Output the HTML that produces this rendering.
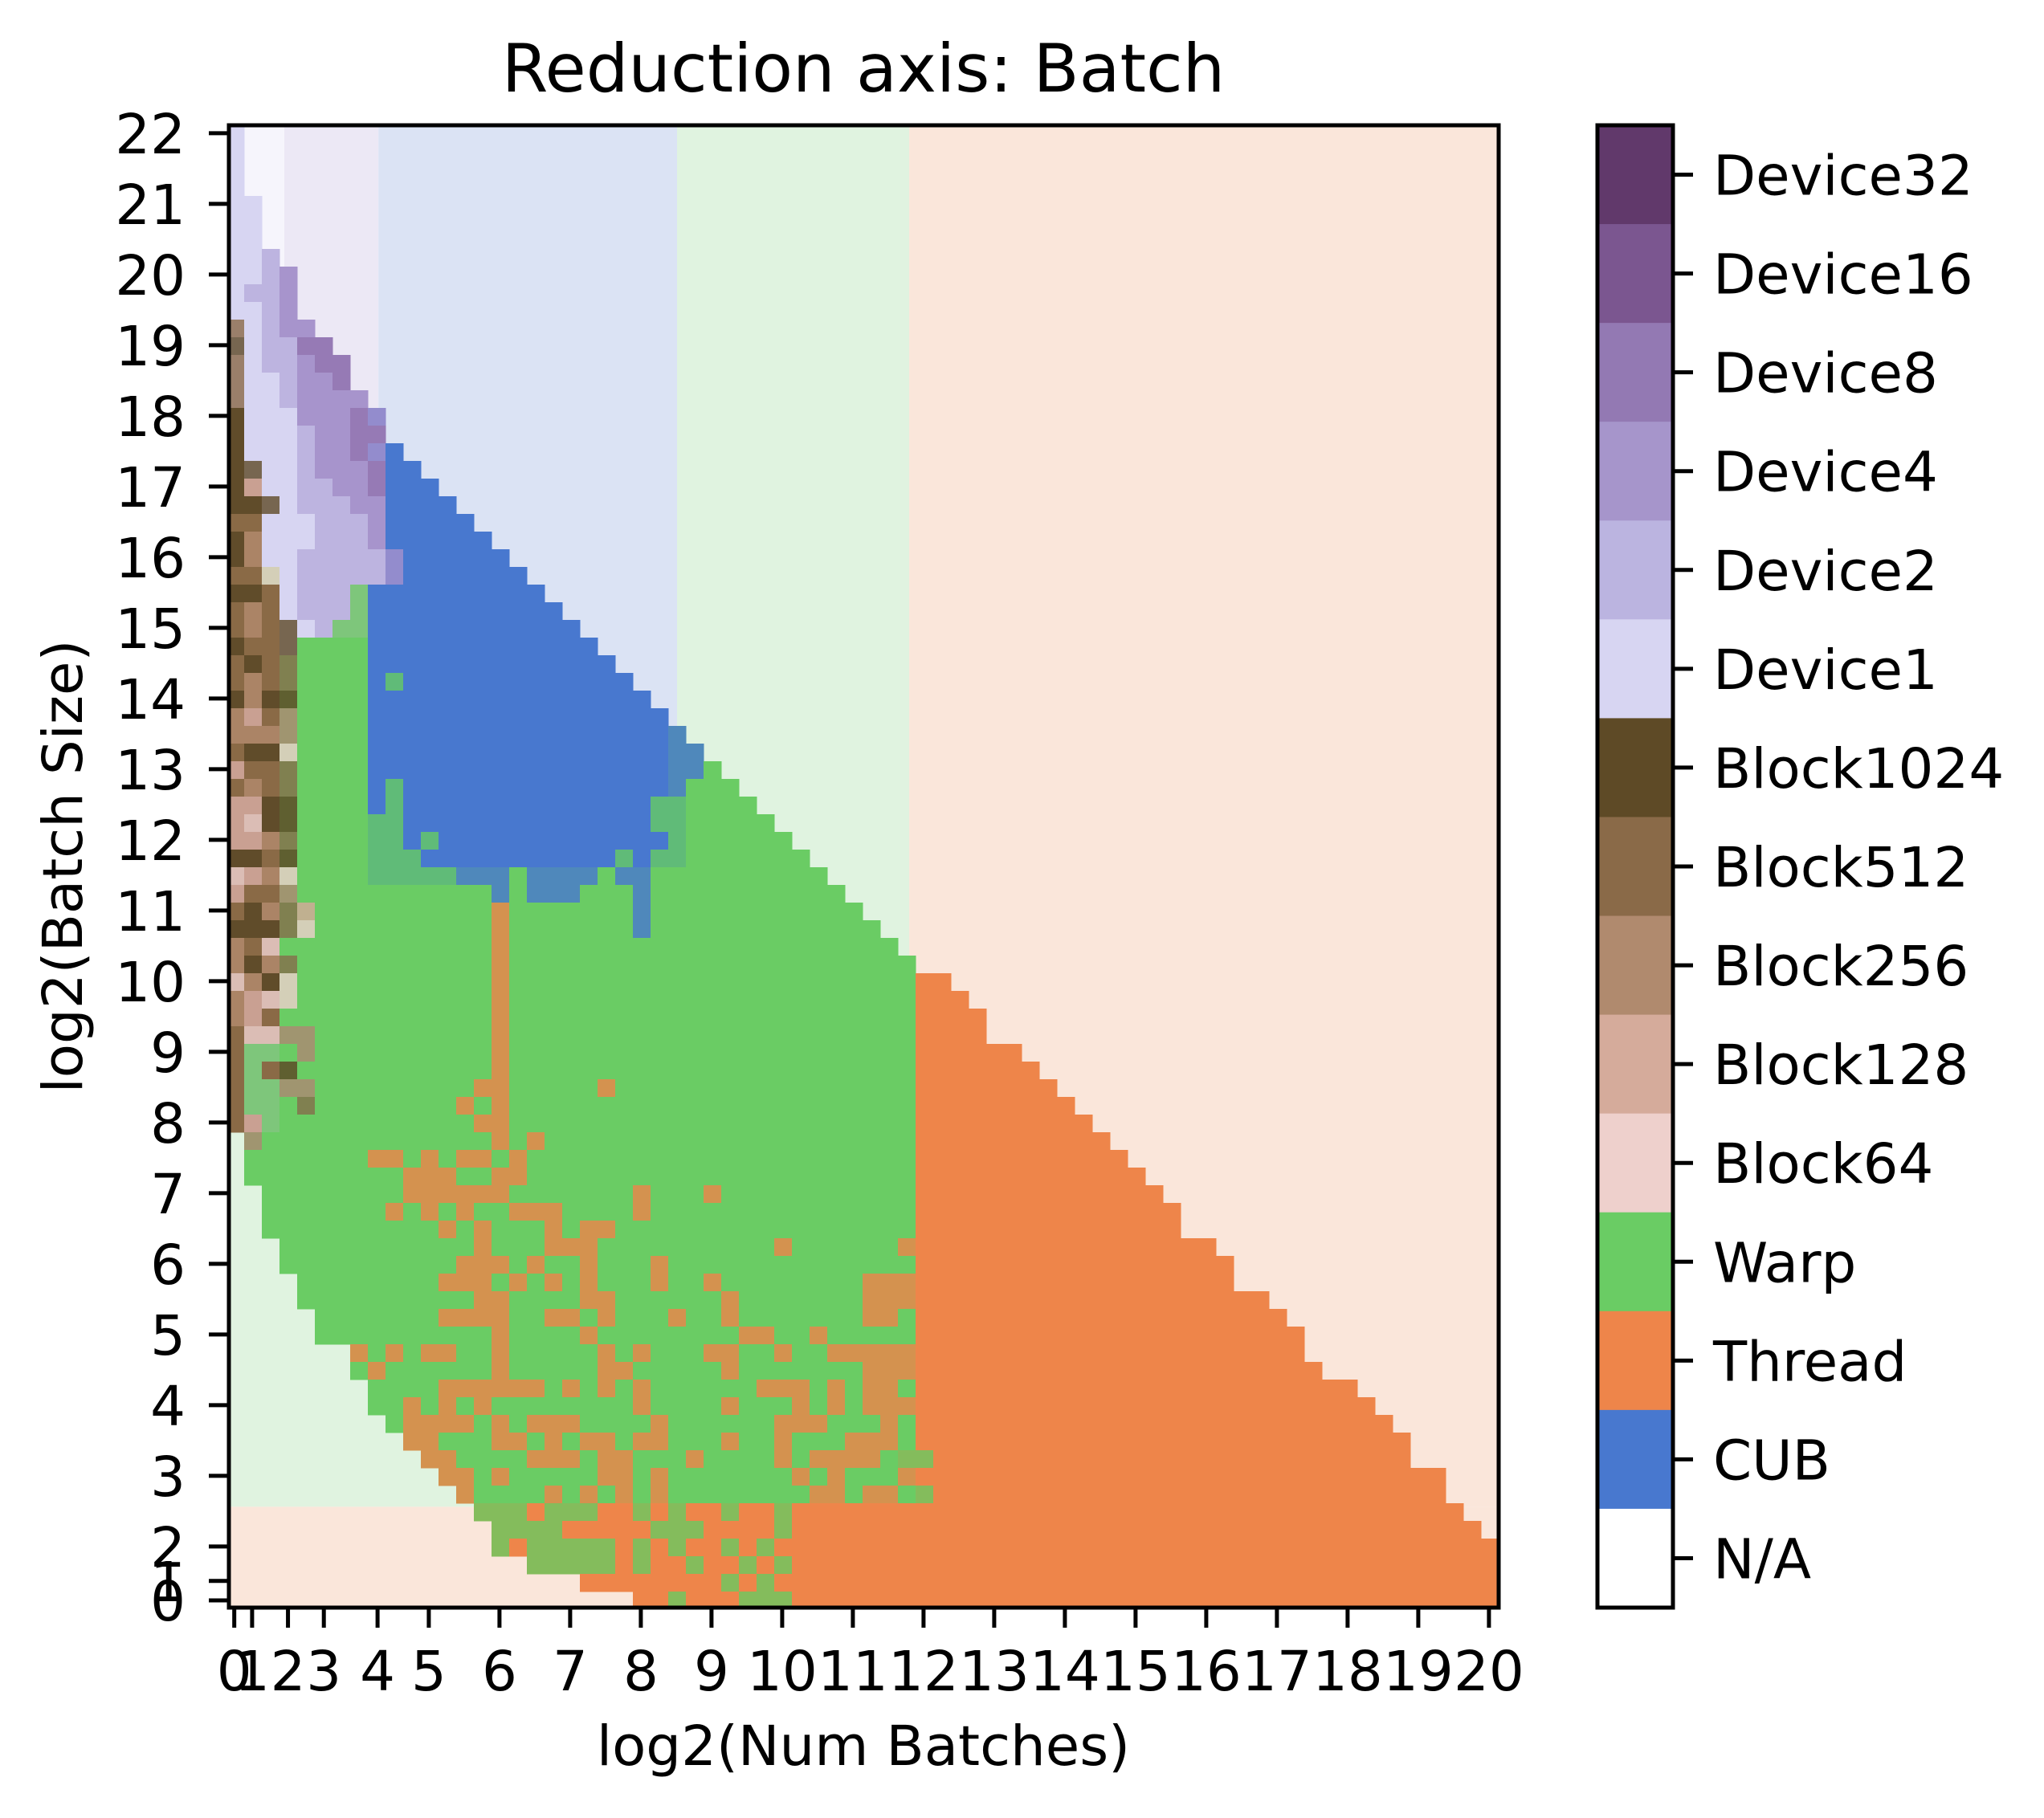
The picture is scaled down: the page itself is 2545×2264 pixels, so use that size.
<!DOCTYPE html>
<html><head><meta charset="utf-8"><title>Reduction axis: Batch</title>
<style>html,body{margin:0;padding:0;background:#fff;}svg{display:block;font-family:"DejaVu Sans","Liberation Sans",sans-serif;}</style>
</head><body>
<svg id="chart" xmlns="http://www.w3.org/2000/svg" width="2545" height="2264" viewBox="0 0 2545 2264">
<rect x="0" y="0" width="2545" height="2264" fill="#fff"/>
<defs><clipPath id="plotclip"><rect x="285" y="156" width="1581" height="1846"/></clipPath></defs>
<text x="1075" y="114" font-size="83" text-anchor="middle">Reduction axis: Batch</text>
<g id="bg" clip-path="url(#plotclip)"></g>
<g id="cells" clip-path="url(#plotclip)" shape-rendering="crispEdges"></g>
<rect x="285" y="156" width="1581" height="1846" fill="none" stroke="#000" stroke-width="5"/>
<g id="xticks"></g>
<g id="yticks"></g>
<text x="1075" y="2198" font-size="69" text-anchor="middle">log2(Num Batches)</text>
<text transform="translate(102,1079) rotate(-90)" font-size="69" text-anchor="middle">log2(Batch Size)</text>
<g id="cbar"></g>
</svg>
<script>
const categories = ["Device32","Device16","Device8","Device4","Device2","Device1","Block1024","Block512","Block256","Block128","Block64","Warp","Thread","CUB","N/A"];
const categoryColors = ["#61396b","#7b5690","#9379b3","#a695cb","#bbb4e0","#d7d5f2","#5e4a26","#8a6a48","#b08a6e","#d5ab9b","#eed0cc","#6acc64","#ee854a","#4878cf","#ffffff"];
const cellColors = {"1":"#d7d5f2","2":"#bdb4e0","4":"#a794cc","8":"#967ab5","k":"#604c2a","5":"#8a6a46","6":"#ab8466","L":"#c9a092","s":"#dbbdb5","b":"#9a7f6a","g":"#776650","o":"#808050","O":"#5f5f30","q":"#a09570","Q":"#d4cfb8","r":"#c0b090","W":"#6acc64","V":"#7ec67b","G":"#60bb78","C":"#4878cf","M":"#4f88bb","P":"#938ccd","t":"#d4924f","T":"#ee854a","m":"#84bc5c"};
const bgColEdges = [0, 1.0, 3.27, 8.6, 25.5, 38.64, 72];
const bgTopColors = ["#d7d5f2","#f6f5fc","#ece8f5","#dbe3f4","#e0f3e0","#fae6da"];
const bgRowEdges = [0, 57, 78.2, 84];
const bgLowerSplitCol = 38.64;
const gridRows = [
"1:1","1:1","1:1","1:1","1:2","1:2","1:2","1:2 2:1","1:2 2:1 4:1","1:1 2:2 4:1",
"1:2 2:1 4:1","b:1 1:1 2:1 4:2","g:1 1:1 2:2 8:2","b:1 1:1 2:2 4:1 8:2","b:1 1:2 2:1 4:2 8:1","b:1 1:2 2:1 4:4","k:1 1:3 4:3 8:1 P:1","k:1 1:3 2:1 4:2 8:2","k:1 1:3 2:1 4:2 8:1 P:1 C:1","k:1 g:1 1:2 2:1 4:3 8:1 C:2",
"k:1 L:1 1:2 2:2 4:2 8:1 C:3","k:2 g:1 1:1 2:3 4:2 C:4","5:2 1:3 2:3 4:1 C:5","k:1 6:1 1:3 2:3 4:1 C:6","k:1 6:1 1:2 2:5 P:1 C:6","5:2 Q:1 1:1 2:5 P:1 C:7","k:2 5:1 1:1 2:3 V:1 C:10","5:1 6:1 5:1 1:1 2:3 V:1 C:11","5:1 6:1 5:1 g:1 1:1 2:1 V:2 C:12","k:1 5:2 g:1 W:4 C:13",
"5:1 k:1 5:1 o:1 W:4 C:14","5:1 6:1 5:1 o:1 W:4 C:1 G:1 C:13","k:1 6:1 k:1 O:1 W:4 C:16","6:1 L:1 5:1 q:1 W:4 C:17","6:3 q:1 W:4 C:17 M:1","5:1 k:2 Q:1 W:4 C:17 M:2","L:1 5:2 o:1 W:4 C:17 M:2 W:1","5:1 6:1 5:1 o:1 W:4 C:1 G:1 C:15 M:1 W:3","L:2 k:1 O:1 W:4 C:1 G:1 C:14 G:2 W:4","L:1 s:1 k:1 O:1 W:4 G:2 C:14 G:2 W:5",
"L:2 6:1 o:1 W:4 G:2 C:1 G:1 C:13 G:1 W:6","k:2 5:1 O:1 W:4 G:3 C:11 G:1 C:1 G:2 W:7","s:1 L:1 6:1 Q:1 W:4 G:5 M:3 W:1 M:4 W:1 M:2 W:10","L:1 5:2 q:1 W:11 M:1 W:1 M:3 W:3 M:1 W:11","5:1 k:1 6:1 o:1 r:1 W:10 t:1 W:7 M:1 W:12","k:3 o:1 Q:1 W:10 t:1 W:7 M:1 W:13","6:1 5:1 s:1 W:12 t:1 W:22","6:1 k:1 6:1 o:1 W:11 t:1 W:23","s:1 6:1 k:1 Q:1 W:11 t:1 W:23 T:2","6:1 L:1 s:1 Q:1 W:11 t:1 W:23 T:3",
"6:1 L:1 5:1 W:12 t:1 W:23 T:4","5:1 s:2 q:2 W:10 t:1 W:23 T:4","5:1 V:2 W:1 q:1 W:10 t:1 W:23 T:6","5:1 V:1 5:1 O:1 W:11 t:1 W:23 T:7","5:1 V:2 q:2 W:9 t:2 W:5 t:1 W:17 T:8","5:1 V:2 W:1 o:1 W:8 t:1 W:1 t:1 W:23 T:9","5:1 L:1 V:1 W:11 t:2 W:23 T:10",".:1 q:1 W:13 t:1 W:1 t:1 W:21 T:11",".:1 W:7 t:2 W:1 t:1 W:1 t:2 W:1 t:1 W:22 T:12",".:1 W:9 t:3 W:2 t:2 W:22 T:13",
".:2 W:8 t:6 W:7 t:1 W:3 t:1 W:11 T:14",".:2 W:7 t:1 W:1 t:1 W:1 t:1 W:2 t:3 W:4 t:1 W:15 T:15",".:2 W:10 t:1 W:1 t:1 W:3 t:1 W:1 t:2 W:17 T:15",".:3 W:11 t:1 W:3 t:3 W:10 t:1 W:6 t:1 T:17",".:3 W:10 t:3 W:1 t:1 W:2 t:1 W:3 t:1 W:14 T:18",".:4 W:8 t:3 W:1 t:1 W:1 t:1 W:1 t:1 W:3 t:1 W:2 t:1 W:8 t:3 T:18",".:4 W:10 t:2 W:4 t:2 W:6 t:1 W:7 t:3 T:20",".:5 W:7 t:4 W:2 t:2 W:1 t:1 W:3 t:1 W:2 t:1 W:7 t:2 W:1 T:21",".:5 W:10 t:1 W:4 t:1 W:8 t:2 W:2 t:1 W:5 T:22",".:7 t:1 W:1 t:1 W:1 t:2 W:2 t:1 W:5 t:1 W:1 t:1 W:3 t:2 W:2 t:1 W:2 t:5 T:22",
".:7 W:1 t:1 W:6 t:1 W:5 t:2 W:5 t:1 W:7 t:3 T:23",".:8 W:4 t:6 W:1 t:1 W:1 t:1 W:1 t:1 W:6 t:3 W:1 t:1 W:1 t:2 W:1 T:25",".:8 W:2 t:1 W:1 t:1 W:1 t:1 W:8 t:1 W:4 t:1 W:3 t:1 W:1 t:1 W:1 t:3 T:26",".:9 W:1 t:4 W:1 t:1 W:1 t:3 W:4 t:1 W:6 t:3 W:3 t:1 W:1 T:27",".:10 t:2 W:3 t:2 W:1 t:1 W:1 t:2 W:1 t:2 W:3 t:1 W:2 t:1 W:3 t:3 W:1 T:28",".:11 t:2 W:4 t:3 W:1 t:2 W:3 t:1 W:4 t:1 W:1 t:4 W:1 m:2 T:27",".:12 t:2 W:1 t:1 W:5 t:2 W:1 t:1 W:7 t:1 W:1 t:1 W:3 t:1 T:30",".:13 t:1 W:4 t:1 W:1 t:1 W:1 t:1 W:1 t:1 W:8 t:2 W:1 t:2 W:1 m:1 T:29",".:14 m:3 T:1 m:3 T:2 m:1 T:1 m:1 T:2 m:1 T:2 m:1 T:38",".:15 m:4 T:5 m:3 T:4 m:1 T:39",
".:15 m:1 T:1 m:5 T:1 m:1 T:1 m:1 T:2 m:1 T:1 m:1 T:41",".:17 m:5 T:1 m:1 T:2 m:1 T:2 m:1 T:1 m:1 T:40",".:20 T:8 m:1 T:1 m:1 T:41",".:23 T:2 m:1 T:3 m:3 T:40"
];
const xTickLabels = ["0","1","2","3","4","5","6","7","8","9","10","11","12","13","14","15","16","17","18","19","20"];
const xTickCols = [0.44,1.45,3.48,5.51,8.55,11.45,15.45,19.45,23.45,27.45,31.45,35.45,39.45,43.45,47.45,51.45,55.45,59.45,63.45,67.45,71.45];
const yTickLabels = ["22","21","20","19","18","17","16","15","14","13","12","11","10","9","8","7","6","5","4","3","2","1","0"];
const yTickRows = [0.45,4.45,8.45,12.45,16.45,20.45,24.45,28.45,32.45,36.45,40.45,44.45,48.45,52.45,56.45,60.45,64.45,68.45,72.45,76.45,80.45,82.4,83.5];

const NS = "http://www.w3.org/2000/svg";
const X0 = 282, Y0 = 156, CELL = 22, PL = 285, PR = 1866, PT = 156, PB = 2002;
function xOf(c){ return X0 + CELL * c; }
function yOf(r){ return Y0 + CELL * r; }
function mk(tag, attrs, parent){ const e = document.createElementNS(NS, tag); for (const k in attrs) e.setAttribute(k, attrs[k]); parent.appendChild(e); return e; }

const bg = document.getElementById("bg");
for (let i = 0; i < bgTopColors.length; i++) {
  const r = mk("rect", {x: xOf(bgColEdges[i]), y: yOf(bgRowEdges[0]), width: xOf(bgColEdges[i+1]) - xOf(bgColEdges[i]), height: yOf(bgRowEdges[1]) - yOf(bgRowEdges[0]), fill: bgTopColors[i]}, bg);
  
  
}
{
  const a = mk("rect", {x: xOf(0), y: yOf(bgRowEdges[1]), width: xOf(bgLowerSplitCol) - xOf(0), height: yOf(bgRowEdges[2]) - yOf(bgRowEdges[1]), fill: "#e0f3e0"}, bg);
  
  
  const b = mk("rect", {x: xOf(bgLowerSplitCol), y: yOf(bgRowEdges[1]), width: xOf(72) - xOf(bgLowerSplitCol), height: yOf(bgRowEdges[2]) - yOf(bgRowEdges[1]), fill: "#fae6da"}, bg);
  
  
  const c = mk("rect", {x: xOf(0), y: yOf(bgRowEdges[2]), width: xOf(72) - xOf(0), height: yOf(bgRowEdges[3]) - yOf(bgRowEdges[2]), fill: "#fae6da"}, bg);
  
  
}

const cells = document.getElementById("cells");
gridRows.forEach(function(row, r){
  let col = 0;
  row.split(" ").forEach(function(tok){
    const parts = tok.split(":");
    const code = parts[0], n = parseInt(parts[1], 10);
    if (code !== "." && cellColors[code]) {
      const el = mk("rect", {x: xOf(col), y: yOf(r), width: CELL * n + 0.6, height: CELL + 0.6, fill: cellColors[code]}, cells);
      
      
    }
    col += n;
  });
});

const xt = document.getElementById("xticks");
xTickCols.forEach(function(c, i){
  const x = xOf(c);
  const t = mk("line", {x1: x, x2: x, y1: PB, y2: PB + 25, stroke: "#000", "stroke-width": 5}, xt);
  
  
  const l = mk("text", {x: x, y: 2105, "font-size": 69, "text-anchor": "middle"}, xt);
  l.textContent = xTickLabels[i];
  
  
});
const yt = document.getElementById("yticks");
yTickRows.forEach(function(rr, i){
  const y = yOf(rr);
  const t = mk("line", {x1: PL - 25, x2: PL, y1: y, y2: y, stroke: "#000", "stroke-width": 5}, yt);
  
  
  const l = mk("text", {x: 231, y: y + 25, "font-size": 69, "text-anchor": "end"}, yt);
  l.textContent = yTickLabels[i];
  
  
});

const cb = document.getElementById("cbar");
const CBX = 1989, CBW = 94, segH = (PB - PT) / categories.length;
categories.forEach(function(name, i){
  const y = PT + segH * i;
  const s = mk("rect", {x: CBX, y: y, width: CBW, height: segH + 0.6, fill: categoryColors[i]}, cb);
  
  
  const yc = y + segH / 2;
  const t = mk("line", {x1: CBX + CBW, x2: CBX + CBW + 25, y1: yc, y2: yc, stroke: "#000", "stroke-width": 5}, cb);
  
  
  const l = mk("text", {x: 2133, y: yc + 25, "font-size": 69}, cb);
  l.textContent = name;
  
  
});
const fr = mk("rect", {x: CBX, y: PT, width: CBW, height: PB - PT, fill: "none", stroke: "#000", "stroke-width": 5}, cb);


</script>
</body></html>
